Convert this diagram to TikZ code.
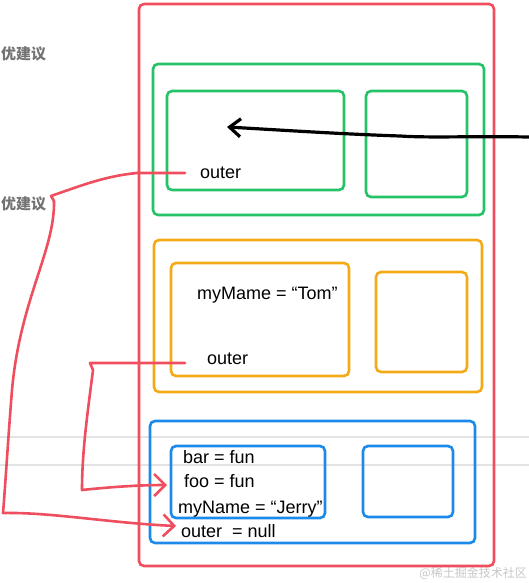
\documentclass[tikz,border=0pt]{standalone}
\usepackage{fontspec}
\setmainfont{Liberation Sans}
\newfontfamily\cjk{Noto Sans CJK SC}
\usetikzlibrary{arrows.meta}

\definecolor{frame_red}{RGB}{238,78,94}
\definecolor{scope_green}{RGB}{38,194,104}
\definecolor{scope_orange}{RGB}{244,170,22}
\definecolor{scope_blue}{RGB}{28,138,234}
\definecolor{rule_gray}{RGB}{228,228,228}

\begin{document}
\begin{tikzpicture}[
    x=1pt, y=-1pt,
    box_line/.style={line width=2.6pt, rounded corners=5pt},
    var_text/.style={anchor=base west, inner sep=0pt, font=\fontsize{18}{21}\selectfont},
    side_text/.style={anchor=west, inner sep=0pt, text=black!55, font=\cjk\bfseries\fontsize{15}{18}\selectfont},
    red_link/.style={draw=frame_red, line width=2.6pt, line cap=round, line join=round,
      -{Straight Barb[length=11pt, width=22pt]}},
    ]

    \clip (0,0) rectangle (529,583);

    % --- Background rules and side notes ---
    \draw[rule_gray, line width=2pt] (0,437) -- (529,437);
    \draw[rule_gray, line width=2pt] (0,465) -- (529,465);
    \node[side_text] (note_top) at (1,54) {优建议};
    \node[side_text] (note_mid) at (1,204) {优建议};
    \node[anchor=east, inner sep=0pt, text=black!22, font=\cjk\fontsize{12}{14}\selectfont]
      (mark) at (527,573) {@稀土掘金技术社区};

    % --- Stack frame (red) ---
    \draw[box_line, frame_red] (139,4) rectangle (494,566);

    % --- Green scope ---
    \draw[box_line, scope_green] (153,64) rectangle (484,215);
    \draw[box_line, scope_green] (167,91) rectangle (344,190);
    \draw[box_line, scope_green] (366,91) rectangle (467,197);
    \node[var_text] (green_outer) at (200,178) {outer};

    % --- Orange scope ---
    \draw[box_line, scope_orange] (154,240) rectangle (482,392);
    \draw[box_line, scope_orange] (171,263) rectangle (349,376);
    \draw[box_line, scope_orange] (376,272) rectangle (467,372);
    \node[var_text] (tom_name) at (197,299) {myMame = “Tom”};
    \node[var_text] (orange_outer) at (207,364) {outer};

    % --- Blue scope ---
    \draw[box_line, scope_blue] (150,421) rectangle (475,543);
    \draw[box_line, scope_blue] (171,446) rectangle (325,518);
    \draw[box_line, scope_blue] (363,446) rectangle (453,517);
    \node[var_text] (bar_fun) at (183,463) {bar = fun};
    \node[var_text] (foo_fun) at (184,487) {foo = fun};
    \node[var_text] (jerry_name) at (178,513) {myName = “Jerry”};
    \node[var_text] (blue_outer) at (181,537) {outer~~= null};

    % --- Link ends ---
    \coordinate (green_from) at (185,173);
    \coordinate (orange_from) at (185,363);
    \coordinate (foo_to) at (167,485);
    \coordinate (null_to) at (176,526);
    \coordinate (pointer_from) at (529,137);
    \coordinate (pointer_to) at (227,127);

    % --- Outer references (red) ---
    \draw[red_link] (green_from) -- (137,173)
      .. controls (105,176) and (80,186) .. (51,196) -- (54,201)
      .. controls (55,250) and (20,300) .. (12,390)
      .. controls (8,440) and (5,490) .. (3,513)
      .. controls (50,512) and (110,523) .. (null_to);
    \draw[red_link] (orange_from) -- (90,363) -- (93,370)
      .. controls (88,410) and (82,450) .. (82,490)
      .. controls (110,487) and (140,485) .. (foo_to);

    % --- Incoming pointer (black) ---
    \draw[line width=3.2pt, line cap=round, line join=round,
      -{Straight Barb[length=11pt, width=18pt]}]
      (pointer_from) .. controls (470,136) and (430,138) .. (400,136)
      .. controls (340,134) and (280,130) .. (pointer_to);

\end{tikzpicture}
\end{document}
